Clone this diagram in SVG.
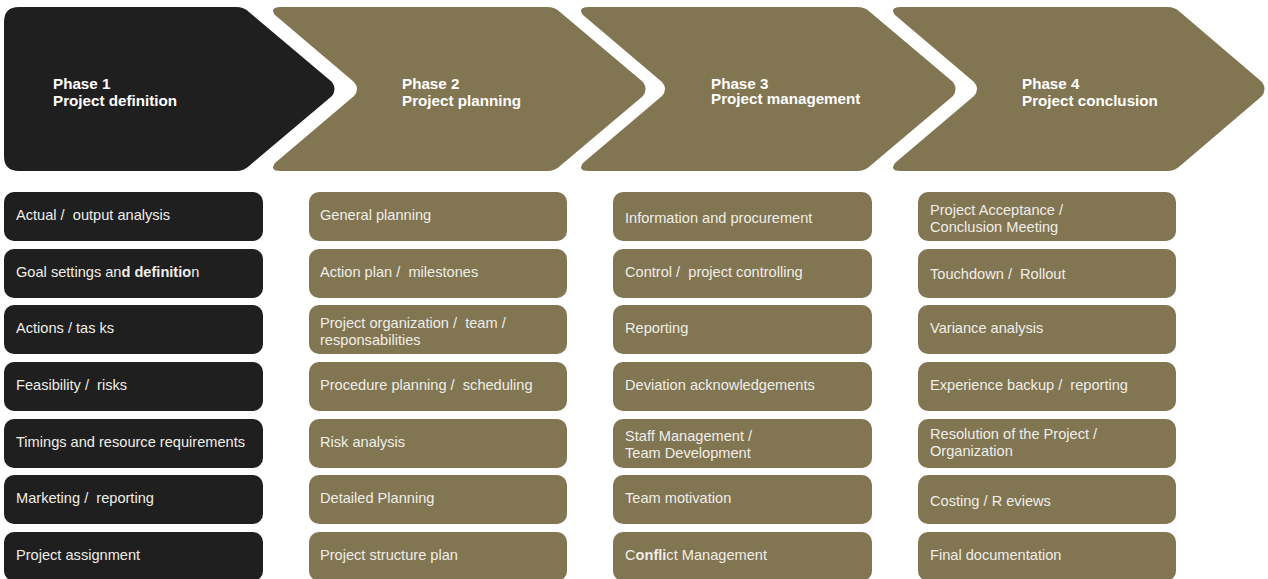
<svg xmlns="http://www.w3.org/2000/svg" width="1268" height="579" viewBox="0 0 1268 579">
<style>
.dark{fill:#1f1f1f}
.olive{fill:#817552}
.hd{font-family:"Liberation Sans",Arial,sans-serif;font-weight:bold;font-size:15.2px;fill:#ffffff}
.tx{font-family:"Liberation Sans",Arial,sans-serif;font-size:14.6px;fill:#f0eee8;white-space:pre}
.b{font-weight:bold}
</style>
<rect width="1268" height="579" fill="#ffffff"/>
<g id="phase1">
<path class="dark" d="M19,7 H236 Q244,7 249,12 L332,82 Q337,89 332,96 L249,166 Q244,171 236,171 H19 Q4,171 4,156 V22 Q4,7 19,7 Z"/>
<text class="hd" x="53" y="89">Phase 1</text>
<text class="hd" x="53" y="106">Project definition</text>
</g>
<g id="phase2">
<path class="olive" d="M281,7 H547 Q555,7 560,12 L643,82 Q648,89 643,96 L560,166 Q555,171 547,171 H281 Q269,171 275,163 L354,96 Q360,89 354,82 L275,15 Q269,7 281,7 Z"/>
<text class="hd" x="402" y="89">Phase 2</text>
<text class="hd" x="402" y="106">Project planning</text>
</g>
<g id="phase3">
<path class="olive" d="M589,7 H857 Q865,7 870,12 L953,82 Q958,89 953,96 L870,166 Q865,171 857,171 H589 Q577,171 583,163 L662,96 Q668,89 662,82 L583,15 Q577,7 589,7 Z"/>
<text class="hd" x="711" y="89">Phase 3</text>
<text class="hd" x="711" y="104">Project management</text>
</g>
<g id="phase4">
<path class="olive" d="M901,7 H1167 Q1175,7 1180,12 L1262,82 Q1267,89 1262,96 L1180,166 Q1175,171 1167,171 H901 Q889,171 895,163 L974,96 Q980,89 974,82 L895,15 Q889,7 901,7 Z"/>
<text class="hd" x="1022" y="89">Phase 4</text>
<text class="hd" x="1022" y="106">Project conclusion</text>
</g>
<g id="connectors"/>
<g id="col1">
<g id="c1r1"><rect class="dark" x="4" y="192" width="259" height="49" rx="10"/><text class="tx" x="16" y="220">Actual /  output analysis</text></g>
<g id="c1r2"><rect class="dark" x="4" y="249" width="259" height="49" rx="10"/><text class="tx" x="16" y="277">Goal settings an<tspan class="b">d definitio</tspan>n</text></g>
<g id="c1r3"><rect class="dark" x="4" y="305" width="259" height="49" rx="10"/><text class="tx" x="16" y="333">Actions / tas ks</text></g>
<g id="c1r4"><rect class="dark" x="4" y="362" width="259" height="49" rx="10"/><text class="tx" x="16" y="390">Feasibility /  risks</text></g>
<g id="c1r5"><rect class="dark" x="4" y="419" width="259" height="49" rx="10"/><text class="tx" x="16" y="447">Timings and resource requirements</text></g>
<g id="c1r6"><rect class="dark" x="4" y="475" width="259" height="49" rx="10"/><text class="tx" x="16" y="503">Marketing /  reporting</text></g>
<g id="c1r7"><rect class="dark" x="4" y="532" width="259" height="49" rx="10"/><text class="tx" x="16" y="560">Project assignment</text></g>
</g>
<g id="col2">
<g id="c2r1"><rect class="olive" x="309" y="192" width="258" height="49" rx="10"/><text class="tx" x="320" y="220">General planning</text></g>
<g id="c2r2"><rect class="olive" x="309" y="249" width="258" height="49" rx="10"/><text class="tx" x="320" y="277">Action plan /  milestones</text></g>
<g id="c2r3"><rect class="olive" x="309" y="305" width="258" height="49" rx="10"/><text class="tx" x="320" y="328">Project organization /  team /</text><text class="tx" x="320" y="345">responsabilities</text></g>
<g id="c2r4"><rect class="olive" x="309" y="362" width="258" height="49" rx="10"/><text class="tx" x="320" y="390">Procedure planning /  scheduling</text></g>
<g id="c2r5"><rect class="olive" x="309" y="419" width="258" height="49" rx="10"/><text class="tx" x="320" y="447">Risk analysis</text></g>
<g id="c2r6"><rect class="olive" x="309" y="475" width="258" height="49" rx="10"/><text class="tx" x="320" y="503">Detailed Planning</text></g>
<g id="c2r7"><rect class="olive" x="309" y="532" width="258" height="49" rx="10"/><text class="tx" x="320" y="560">Project structure plan</text></g>
</g>
<g id="col3">
<g id="c3r1"><rect class="olive" x="613" y="192" width="259" height="49" rx="10"/><text class="tx" x="625" y="223">Information and procurement</text></g>
<g id="c3r2"><rect class="olive" x="613" y="249" width="259" height="49" rx="10"/><text class="tx" x="625" y="277">Control /  project controlling</text></g>
<g id="c3r3"><rect class="olive" x="613" y="305" width="259" height="49" rx="10"/><text class="tx" x="625" y="333">Reporting</text></g>
<g id="c3r4"><rect class="olive" x="613" y="362" width="259" height="49" rx="10"/><text class="tx" x="625" y="390">Deviation acknowledgements</text></g>
<g id="c3r5"><rect class="olive" x="613" y="419" width="259" height="49" rx="10"/><text class="tx" x="625" y="441">Staff Management /</text><text class="tx" x="625" y="458">Team Development</text></g>
<g id="c3r6"><rect class="olive" x="613" y="475" width="259" height="49" rx="10"/><text class="tx" x="625" y="503">Team motivation</text></g>
<g id="c3r7"><rect class="olive" x="613" y="532" width="259" height="49" rx="10"/><text class="tx" x="625" y="560">C<tspan class="b">onfli</tspan>ct Management</text></g>
</g>
<g id="col4">
<g id="c4r1"><rect class="olive" x="918" y="192" width="258" height="49" rx="10"/><text class="tx" x="930" y="215">Project Acceptance /</text><text class="tx" x="930" y="232">Conclusion Meeting</text></g>
<g id="c4r2"><rect class="olive" x="918" y="249" width="258" height="49" rx="10"/><text class="tx" x="930" y="279">Touchdown /  Rollout</text></g>
<g id="c4r3"><rect class="olive" x="918" y="305" width="258" height="49" rx="10"/><text class="tx" x="930" y="333">Variance analysis</text></g>
<g id="c4r4"><rect class="olive" x="918" y="362" width="258" height="49" rx="10"/><text class="tx" x="930" y="390">Experience backup /  reporting</text></g>
<g id="c4r5"><rect class="olive" x="918" y="419" width="258" height="49" rx="10"/><text class="tx" x="930" y="439">Resolution of the Project /</text><text class="tx" x="930" y="456">Organization</text></g>
<g id="c4r6"><rect class="olive" x="918" y="475" width="258" height="49" rx="10"/><text class="tx" x="930" y="506">Costing / R eviews</text></g>
<g id="c4r7"><rect class="olive" x="918" y="532" width="258" height="49" rx="10"/><text class="tx" x="930" y="560">Final documentation</text></g>
</g>
</svg>
